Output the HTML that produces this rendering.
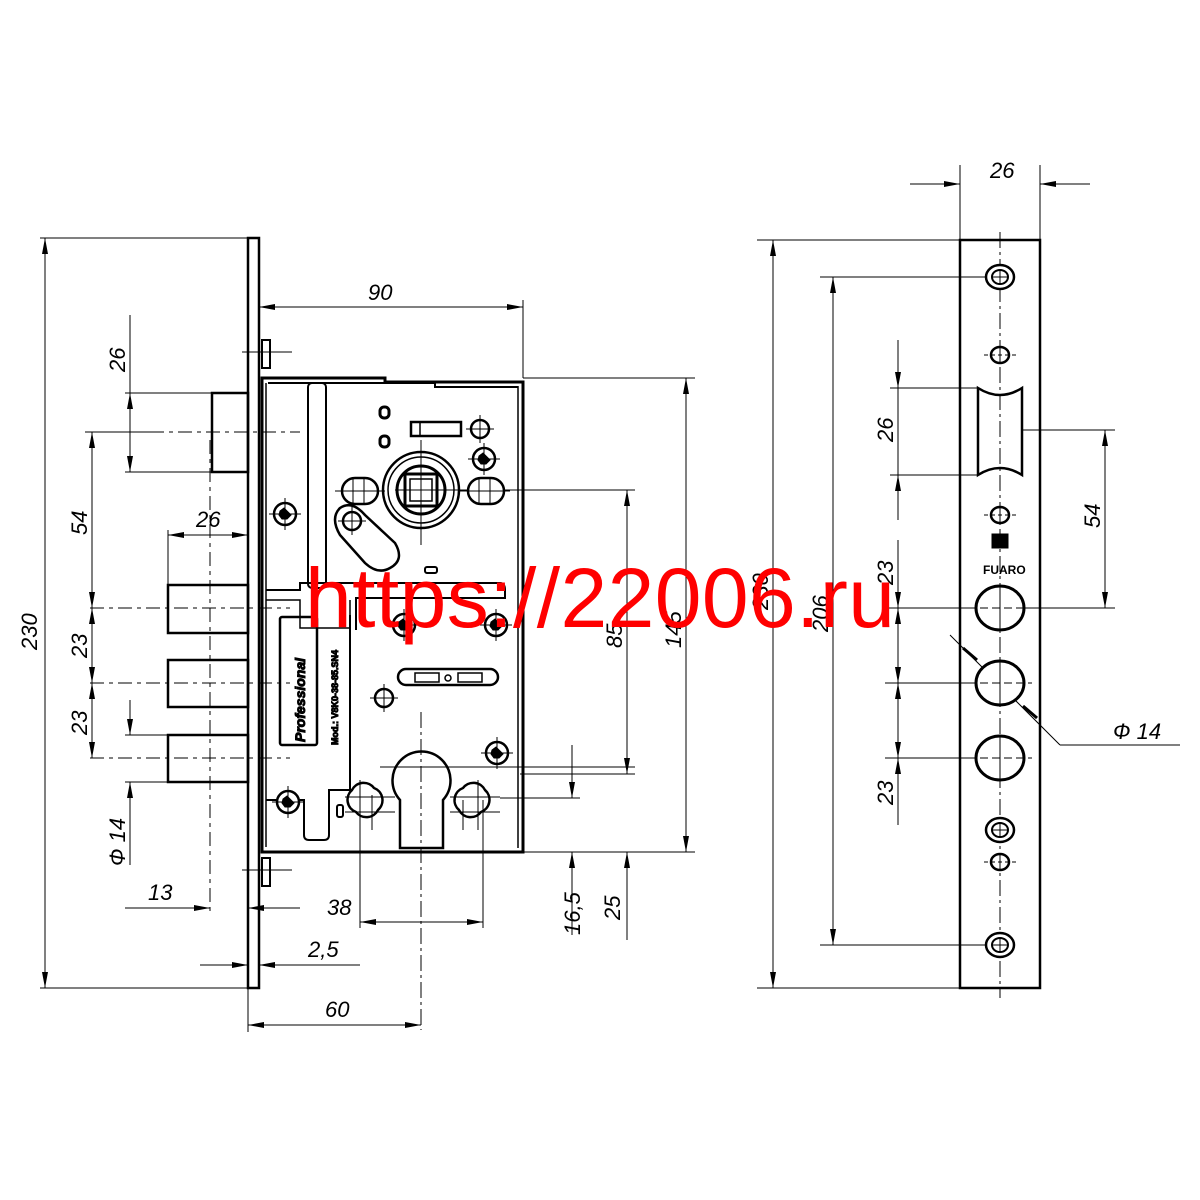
<!DOCTYPE html>
<html><head><meta charset="utf-8"><style>
html,body{margin:0;padding:0;background:#fff;}
svg{display:block}
text{font-family:"Liberation Sans",sans-serif;font-style:italic;font-size:22px;fill:#000}
</style></head><body>
<svg width="1200" height="1200" viewBox="0 0 1200 1200" xmlns="http://www.w3.org/2000/svg">
<defs>
<marker id="a" viewBox="0 0 16 6" refX="16" refY="3" markerWidth="16" markerHeight="6" orient="auto-start-reverse" markerUnits="userSpaceOnUse" preserveAspectRatio="none"><path d="M0,0 L16,3 L0,6 z" fill="#000"/></marker>
<g id="scr"><circle r="11" fill="#fff" stroke="#000" stroke-width="2.5"/><path d="M-5,-3 L-1,-6 L3,-2 L6,1 L2,5 L-3,5 L-6,1 z" fill="#000"/><line x1="-16" y1="0" x2="16" y2="0" stroke="#000" stroke-width="1"/><line x1="0" y1="-16" x2="0" y2="16" stroke="#000" stroke-width="1"/></g>
<g id="cr"><circle r="9" fill="none" stroke="#000" stroke-width="2.5"/><line x1="-14" y1="0" x2="14" y2="0" stroke="#000" stroke-width="1"/><line x1="0" y1="-14" x2="0" y2="14" stroke="#000" stroke-width="1"/></g>
<g id="dh"><ellipse rx="14" ry="12" fill="#fff" stroke="#000" stroke-width="2.5"/><ellipse rx="8" ry="7" fill="none" stroke="#000" stroke-width="2"/><line x1="-8" y1="0" x2="8" y2="0" stroke="#000" stroke-width="1"/><line x1="0" y1="-7" x2="0" y2="7" stroke="#000" stroke-width="1"/></g>
<g id="sh"><ellipse rx="9" ry="8" fill="#fff" stroke="#000" stroke-width="2.5"/><line x1="-16" y1="0" x2="16" y2="0" stroke="#000" stroke-width="1" stroke-dasharray="4 3"/><line x1="0" y1="-8" x2="0" y2="8" stroke="#000" stroke-width="1"/></g>
<g id="bh"><ellipse rx="24" ry="22" fill="#fff" stroke="#000" stroke-width="3"/><line x1="-32" y1="0" x2="32" y2="0" stroke="#000" stroke-width="1" stroke-dasharray="8 4"/><line x1="0" y1="-22" x2="0" y2="22" stroke="#000" stroke-width="1"/></g>
</defs>
<g stroke="#000" fill="none">
<rect x="248" y="238" width="11" height="750" stroke-width="2.5"/>
<path d="M262,378 H385 V382 H523 V852 H262 Z" stroke-width="3"/>
<path d="M266,383 V847 M518,386 V848" stroke-width="1.5"/>
<rect x="262" y="340" width="8" height="28" stroke-width="2"/>
<rect x="262" y="858" width="8" height="28" stroke-width="2"/>
<line x1="242" y1="352" x2="292" y2="352" stroke-width="1"/>
<line x1="242" y1="870" x2="292" y2="870" stroke-width="1"/>
<path d="M268,383 H435 V387 H518" stroke-width="2"/>
<rect x="308" y="383" width="18" height="205" rx="4" stroke-width="2"/>
<path d="M266,590 H300 V583 H500 Q505,583 505,590 V598 H356 V630" stroke-width="2"/>
<path d="M266,600 H300 V628 H350 V600" stroke-width="1.5"/>
<path d="M266,800 H304 V835 Q304,840 309,840 H324 Q329,840 329,835 V790 H350 V615" stroke-width="2"/>
<rect x="280" y="617" width="37" height="128" rx="2" stroke-width="2.5"/>
<text x="0" y="0" transform="translate(305,742) rotate(-90)" style="font-size:14px;font-weight:bold">Professional</text>
<text x="0" y="0" transform="translate(338,745) rotate(-90)" style="font-size:9px;font-weight:bold;font-style:normal">Mod.: V8K0-38-85.SN4</text>
<use href="#scr" x="285" y="514"/>
<use href="#scr" x="288" y="802"/>
<use href="#scr" x="484" y="459"/>
<use href="#scr" x="497" y="753"/>
<use href="#scr" x="404" y="625"/>
<use href="#scr" x="496" y="625"/>
<use href="#cr" x="480" y="429"/>
<use href="#cr" x="384" y="698"/>
<rect x="380" y="407" width="9" height="11" rx="4" stroke-width="3"/>
<rect x="380" y="436" width="9" height="11" rx="4" stroke-width="3"/>
<rect x="411" y="422" width="50" height="14" stroke-width="2.5"/>
<line x1="420" y1="422" x2="420" y2="436" stroke-width="1.5"/>
<rect x="425" y="567" width="12" height="6" rx="2" stroke-width="2"/>
<rect x="337" y="805" width="6" height="12" rx="2" stroke-width="2"/>
<circle cx="421" cy="490" r="38" stroke-width="2.5"/>
<circle cx="421" cy="490" r="33" stroke-width="1.5"/>
<circle cx="421" cy="490" r="24" stroke-width="3"/>
<rect x="405" y="474" width="32" height="32" stroke-width="3"/>
<rect x="410" y="479" width="22" height="22" stroke-width="1.5"/>
<line x1="421" y1="440" x2="421" y2="545" stroke-width="1"/>
<line x1="395" y1="490" x2="635" y2="490" stroke-width="1"/>
<rect x="342" y="478" width="36" height="26" rx="13" fill="#fff" stroke-width="2.5"/>
<rect x="468" y="478" width="36" height="26" rx="13" fill="#fff" stroke-width="2.5"/>
<path d="M353,478 V504 M364,478 V504 M479,478 V504 M490,478 V504 M335,491 H385 M460,491 H510" stroke-width="1"/>
<path d="M340,508 Q352,500 365,515 L395,543 Q405,560 390,568 Q378,575 365,563 L340,535 Q330,518 340,508 Z" stroke-width="2.5"/>
<use href="#cr" x="352" y="521"/>
<rect x="398" y="669" width="100" height="16" rx="8" stroke-width="2.5"/>
<rect x="415" y="673" width="24" height="9" stroke-width="1.5"/>
<rect x="458" y="673" width="24" height="9" stroke-width="1.5"/>
<circle cx="448" cy="678" r="3" stroke-width="1.5"/>
<path d="M400,800 A29,29 0 1 1 443,800 L443,848 L400,848 Z" stroke-width="2.5"/>
<line x1="421" y1="712" x2="421" y2="1030" stroke-width="1" stroke-dasharray="16 4 3 4"/>
<line x1="380" y1="767" x2="635" y2="767" stroke-width="1"/>
<path d="M352,790 a13,13 0 0 1 22,-2 a13,13 0 0 1 4,22 a13,13 0 0 1 -22,2 a13,13 0 0 1 -4,-22z" stroke-width="2.5"/>
<path d="M485,790 a13,13 0 0 0 -22,-2 a13,13 0 0 0 -4,22 a13,13 0 0 0 22,2 a13,13 0 0 0 4,-22z" stroke-width="2.5"/>
<path d="M360,780 V830 M372,795 V830 M345,797 H395 M463,800 V830 M478,780 V830 M450,797 H500 M345,812 H395 M450,812 H500" stroke-width="1"/>
<rect x="212" y="393" width="36" height="79" stroke-width="2.5"/>
<line x1="150" y1="432" x2="300" y2="432" stroke-width="1" stroke-dasharray="14 5 4 5"/>
<rect x="168" y="585" width="80" height="48" stroke-width="2.5"/>
<rect x="168" y="660" width="80" height="47" stroke-width="2.5"/>
<rect x="168" y="735" width="80" height="47" stroke-width="2.5"/>
<g stroke-width="1" stroke-dasharray="14 5 4 5"><line x1="90" y1="608" x2="290" y2="608"/><line x1="90" y1="683" x2="290" y2="683"/><line x1="90" y1="758" x2="290" y2="758"/><line x1="210" y1="440" x2="210" y2="912"/></g>
<g stroke-width="1">
<line x1="40" y1="238" x2="248" y2="238"/><line x1="40" y1="988" x2="248" y2="988"/>
<line x1="45" y1="238" x2="45" y2="988" marker-start="url(#a)" marker-end="url(#a)"/>
<line x1="125" y1="393" x2="212" y2="393"/><line x1="125" y1="472" x2="212" y2="472"/>
<line x1="130" y1="315" x2="130" y2="393"/>
<line x1="130" y1="393" x2="130" y2="472" marker-start="url(#a)" marker-end="url(#a)"/>
<line x1="85" y1="432" x2="150" y2="432"/>
<line x1="92" y1="432" x2="92" y2="608" marker-start="url(#a)" marker-end="url(#a)"/>
<line x1="92" y1="608" x2="92" y2="683" marker-start="url(#a)" marker-end="url(#a)"/>
<line x1="92" y1="683" x2="92" y2="758" marker-start="url(#a)" marker-end="url(#a)"/>
<line x1="125" y1="735" x2="168" y2="735"/><line x1="125" y1="782" x2="168" y2="782"/>
<line x1="130" y1="700" x2="130" y2="735" marker-end="url(#a)"/>
<line x1="130" y1="865" x2="130" y2="782" marker-end="url(#a)"/>
<line x1="168" y1="530" x2="168" y2="585"/>
<line x1="168" y1="535" x2="248" y2="535" marker-start="url(#a)" marker-end="url(#a)"/>
<line x1="125" y1="908" x2="210" y2="908" marker-end="url(#a)"/>
<line x1="300" y1="908" x2="248" y2="908" marker-end="url(#a)"/>
<line x1="200" y1="965" x2="248" y2="965" marker-end="url(#a)"/>
<line x1="360" y1="965" x2="259" y2="965" marker-end="url(#a)"/>
<line x1="248" y1="988" x2="248" y2="1032"/>
<line x1="248" y1="1025" x2="421" y2="1025" marker-start="url(#a)" marker-end="url(#a)"/>
<line x1="360" y1="800" x2="360" y2="928"/><line x1="483" y1="800" x2="483" y2="928"/>
<line x1="360" y1="922" x2="483" y2="922" marker-start="url(#a)" marker-end="url(#a)"/>
<line x1="259" y1="300" x2="259" y2="340"/><line x1="523" y1="300" x2="523" y2="378"/>
<line x1="259" y1="307" x2="523" y2="307" marker-start="url(#a)" marker-end="url(#a)"/>
<line x1="523" y1="378" x2="695" y2="378"/><line x1="523" y1="852" x2="695" y2="852"/>
<line x1="686" y1="378" x2="686" y2="852" marker-start="url(#a)" marker-end="url(#a)"/>
<line x1="627" y1="490" x2="627" y2="774" marker-start="url(#a)" marker-end="url(#a)"/>
<line x1="627" y1="852" x2="627" y2="940"/>
<line x1="627" y1="915" x2="627" y2="852" marker-end="url(#a)"/>
<line x1="520" y1="774" x2="635" y2="774"/>
<line x1="500" y1="798" x2="580" y2="798"/>
<line x1="572" y1="745" x2="572" y2="798" marker-end="url(#a)"/>
<line x1="572" y1="935" x2="572" y2="852" marker-end="url(#a)"/>
</g>
<rect x="960" y="240" width="80" height="748" stroke-width="2.5"/>
<line x1="1000" y1="232" x2="1000" y2="998" stroke-width="1" stroke-dasharray="16 4 3 4"/>
<path d="M978,388 Q1000,402 1022,388 V475 Q1000,461 978,475 Z" stroke-width="2.5"/>
<rect x="992" y="534" width="16" height="14" fill="#000"/>
<g stroke-width="1">
<line x1="960" y1="165" x2="960" y2="240"/><line x1="1040" y1="165" x2="1040" y2="240"/>
<line x1="910" y1="184" x2="960" y2="184" marker-end="url(#a)"/>
<line x1="1090" y1="184" x2="1040" y2="184" marker-end="url(#a)"/>
<line x1="757" y1="240" x2="960" y2="240"/><line x1="757" y1="988" x2="960" y2="988"/>
<line x1="773" y1="240" x2="773" y2="988" marker-start="url(#a)" marker-end="url(#a)"/>
<line x1="820" y1="277" x2="985" y2="277"/><line x1="820" y1="945" x2="985" y2="945"/>
<line x1="833" y1="277" x2="833" y2="945" marker-start="url(#a)" marker-end="url(#a)"/>
<line x1="890" y1="388" x2="978" y2="388"/><line x1="890" y1="475" x2="978" y2="475"/>
<line x1="898" y1="340" x2="898" y2="388" marker-end="url(#a)"/>
<line x1="898" y1="388" x2="898" y2="475"/>
<line x1="898" y1="520" x2="898" y2="475" marker-end="url(#a)"/>
<line x1="1022" y1="430" x2="1115" y2="430"/><line x1="1024" y1="608" x2="1115" y2="608"/>
<line x1="1105" y1="430" x2="1105" y2="608" marker-start="url(#a)" marker-end="url(#a)"/>
<line x1="885" y1="608" x2="976" y2="608"/><line x1="885" y1="683" x2="976" y2="683"/><line x1="885" y1="758" x2="976" y2="758"/>
<line x1="898" y1="540" x2="898" y2="608" marker-end="url(#a)"/>
<line x1="898" y1="608" x2="898" y2="683" marker-start="url(#a)" marker-end="url(#a)"/>
<line x1="898" y1="683" x2="898" y2="758" marker-start="url(#a)" marker-end="url(#a)"/>
<line x1="898" y1="825" x2="898" y2="758" marker-end="url(#a)"/>
<line x1="950" y1="635" x2="1060" y2="745"/>
<line x1="1060" y1="745" x2="1180" y2="745"/>
</g>
<use href="#dh" x="1000" y="277"/>
<use href="#sh" x="1000" y="355"/>
<use href="#sh" x="1000" y="515"/>
<use href="#bh" x="1000" y="608"/>
<use href="#bh" x="1000" y="683"/>
<use href="#bh" x="1000" y="758"/>
<use href="#dh" x="1000" y="830"/>
<use href="#sh" x="1000" y="862"/>
<use href="#dh" x="1000" y="945"/>
<line x1="963" y1="648" x2="977" y2="660" stroke="#000" stroke-width="3"/>
<line x1="1023" y1="706" x2="1037" y2="718" stroke="#000" stroke-width="3"/>
</g>
<text x="983" y="574" style="font-size:12px;font-weight:bold;font-style:normal">FUARO</text>
<text transform="translate(37,650) rotate(-90)">230</text>
<text transform="translate(125,372) rotate(-90)">26</text>
<text transform="translate(87,535) rotate(-90)">54</text>
<text transform="translate(87,658) rotate(-90)">23</text>
<text transform="translate(87,735) rotate(-90)">23</text>
<text transform="translate(125,866) rotate(-90)">Ф 14</text>
<text x="196" y="527">26</text>
<text x="148" y="900">13</text>
<text x="308" y="957">2,5</text>
<text x="325" y="1017">60</text>
<text x="327" y="915">38</text>
<text x="368" y="300">90</text>
<text transform="translate(622,648) rotate(-90)">85</text>
<text transform="translate(681,648) rotate(-90)">145</text>
<text transform="translate(580,935) rotate(-90)">16,5</text>
<text transform="translate(620,920) rotate(-90)">25</text>
<text x="990" y="178">26</text>
<text transform="translate(768,610) rotate(-90)">230</text>
<text transform="translate(828,632) rotate(-90)">206</text>
<text transform="translate(893,442) rotate(-90)">26</text>
<text transform="translate(1100,528) rotate(-90)">54</text>
<text transform="translate(893,585) rotate(-90)">23</text>
<text transform="translate(893,805) rotate(-90)">23</text>
<text x="1113" y="739">Ф 14</text>
<text x="305" y="627" textLength="590" style="font-size:84px;font-style:normal;fill:#ff0000">https://22006.ru</text>
</svg>
</body></html>
